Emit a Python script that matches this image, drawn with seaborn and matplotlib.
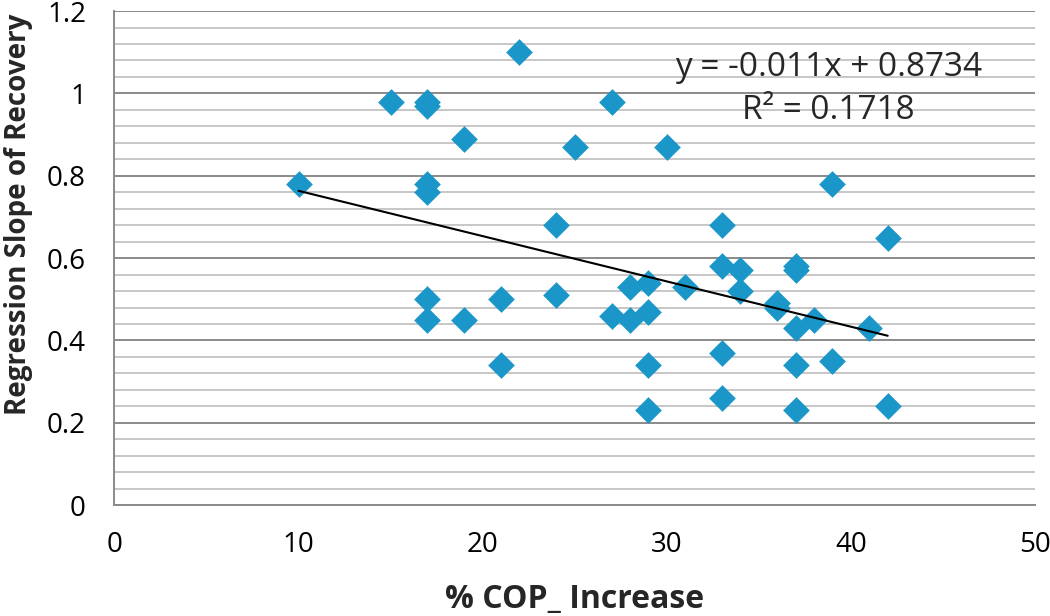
import numpy as np
import pandas as pd
import matplotlib
matplotlib.use("Agg")
import matplotlib.pyplot as plt
import seaborn as sns
from matplotlib.ticker import MultipleLocator

# ---- data ----
cop_increase = [10, 15, 17, 17, 19, 22, 27, 25, 30, 17, 17, 24, 17, 17, 19, 21, 21,
                24, 27, 28, 28, 29, 29, 29, 29, 31, 33, 33, 33, 33, 34, 34, 36, 36,
                37, 37, 37, 37, 37, 38, 39, 39, 41, 42, 42]
slope_recovery = [0.78, 0.98, 0.98, 0.97, 0.89, 1.10, 0.98, 0.87, 0.87, 0.78, 0.76, 0.68,
                  0.50, 0.45, 0.45, 0.50, 0.34, 0.51, 0.46, 0.45, 0.53, 0.54, 0.47, 0.34,
                  0.23, 0.53, 0.68, 0.58, 0.37, 0.26, 0.57, 0.52, 0.49, 0.48, 0.58, 0.57,
                  0.43, 0.34, 0.23, 0.45, 0.78, 0.35, 0.43, 0.65, 0.24]
trend_slope = -0.011
trend_intercept = 0.8734
r_squared = 0.1718
x_ticks = [0, 10, 20, 30, 40, 50]
y_ticks = [0, 0.2, 0.4, 0.6, 0.8, 1.0, 1.2]
y_tick_labels = ["0", "0.2", "0.4", "0.6", "0.8", "1", "1.2"]

df = pd.DataFrame({"x": cop_increase, "y": slope_recovery})
trend_x = np.array([min(cop_increase), max(cop_increase)])
trend_df = pd.DataFrame({"x": trend_x, "y": trend_slope * trend_x + trend_intercept})

sns.set_style("white")
plt.rcParams["font.family"] = ["Open Sans", "DejaVu Sans"]

fig = plt.figure(figsize=(10.5, 6.16), dpi=100)
ax = fig.add_axes([0.109, 0.180, 0.8767, 0.802])

sns.scatterplot(data=df, x="x", y="y", marker="D", s=185, color="#1B96C9",
                linewidth=0, ax=ax, zorder=3)
sns.lineplot(data=trend_df, x="x", y="y", color="black", linewidth=1.5, ax=ax,
             zorder=4)

ax.set_xlim(0, 50)
ax.set_ylim(0, 1.2)
ax.set_xticks(x_ticks)
ax.set_xticklabels([str(v) for v in x_ticks])
ax.set_yticks(y_ticks)
ax.set_yticklabels(y_tick_labels)
ax.yaxis.set_minor_locator(MultipleLocator(0.04))

ax.grid(which="major", axis="y", color="#8a8a8a", linewidth=1.4, zorder=0)
ax.grid(which="minor", axis="y", color="#bdbdbd", linewidth=1.2, zorder=0)
ax.grid(False, axis="x")
ax.set_axisbelow(True)

for side in ["top", "right"]:
    ax.spines[side].set_visible(False)
for side in ["left", "bottom"]:
    ax.spines[side].set_color("#8a8a8a")
    ax.spines[side].set_linewidth(1.4)

ax.tick_params(axis="both", which="major", direction="out", length=6.5, width=1.4,
               color="#8a8a8a", labelsize=20, labelcolor="black")
ax.tick_params(axis="y", which="major", pad=14)
ax.tick_params(axis="x", which="major", pad=12)
ax.tick_params(axis="y", which="minor", length=0)

ax.set_xlabel("% COP_ Increase", fontsize=23, fontweight="bold")
ax.xaxis.set_label_coords(0.5, -0.158)
ax.set_ylabel("Regression Slope of Recovery", fontsize=20, fontweight="bold")
ax.yaxis.set_label_coords(-0.088, 0.589)

eq_text = f"y = {trend_slope}x + {trend_intercept}\nR\u00b2 = {r_squared}"
ax.text(38.8, 1.01, eq_text, fontsize=24, ha="center", va="center",
        linespacing=1.4, zorder=5)

fig.savefig("out.png", dpi=100)
